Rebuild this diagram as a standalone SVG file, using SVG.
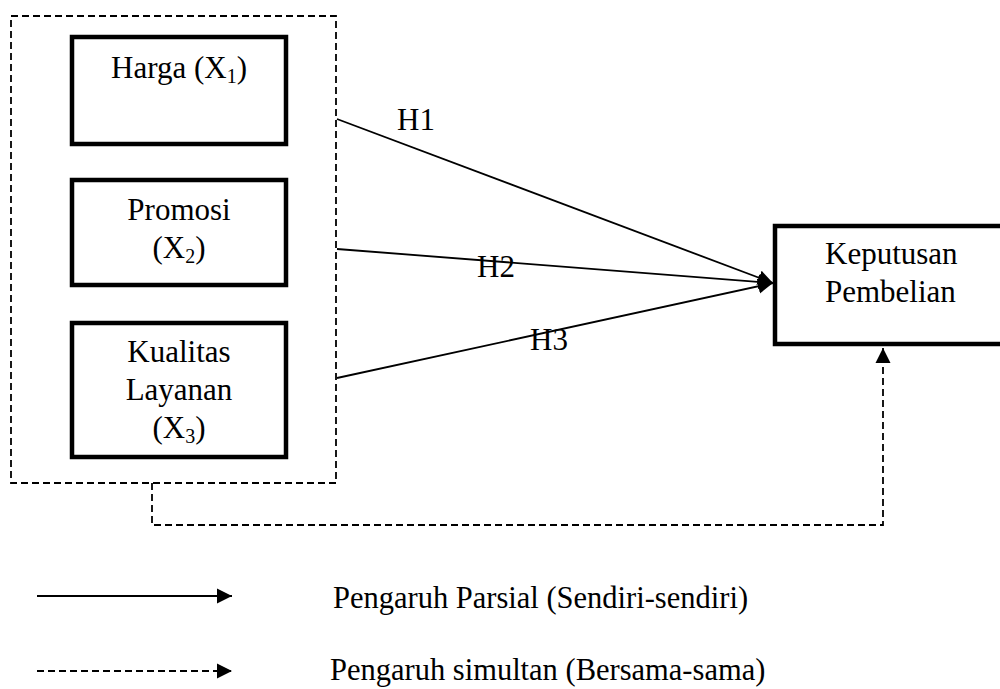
<svg xmlns="http://www.w3.org/2000/svg" width="1000" height="689" viewBox="0 0 1000 689">
<style>
text{font-family:"Liberation Serif","Times New Roman",serif;fill:#000}
.t{font-size:31px}
.c{text-anchor:middle}
.lg{font-size:30.5px}
.box{fill:#fff;stroke:#000;stroke-width:4.5}
.ln{fill:none;stroke:#000;stroke-width:1.8}
.dash{fill:none;stroke:#000;stroke-width:1.8;stroke-dasharray:7 4}
</style>
<defs>
<marker id="ah" markerUnits="userSpaceOnUse" markerWidth="16" markerHeight="18" refX="15" refY="9" orient="auto">
<path d="M0,1.5 L15,9 L0,16.5 Z" fill="#000"/>
</marker>
<marker id="ah2" markerUnits="userSpaceOnUse" markerWidth="16" markerHeight="16" refX="15" refY="8" orient="auto">
<path d="M0,0.5 L15,8 L0,15.5 Z" fill="#000"/>
</marker>
</defs>
<g id="group-box">
<rect class="dash" x="11" y="16" width="325" height="467"/>
</g>
<g id="harga">
<rect class="box" x="72" y="37" width="214" height="107"/>
<text class="t c" x="179" y="78">Harga (X<tspan font-size="20" dy="5">1</tspan><tspan dy="-5">)</tspan></text>
</g>
<g id="promosi">
<rect class="box" x="72" y="180" width="214" height="105"/>
<text class="t c" x="179" y="220">Promosi</text>
<text class="t c" x="179" y="258">(X<tspan font-size="20" dy="5">2</tspan><tspan dy="-5">)</tspan></text>
</g>
<g id="kualitas">
<rect class="box" x="72" y="323" width="214" height="134"/>
<text class="t c" x="179" y="362">Kualitas</text>
<text class="t c" x="179" y="400">Layanan</text>
<text class="t c" x="179" y="438">(X<tspan font-size="20" dy="5">3</tspan><tspan dy="-5">)</tspan></text>
</g>
<g id="keputusan">
<rect class="box" x="775" y="226" width="240" height="118"/>
<text class="t" x="825" y="264">Keputusan</text>
<text class="t" x="825" y="302">Pembelian</text>
</g>
<g id="connectors">
<line class="ln" x1="337" y1="119" x2="773" y2="283" marker-end="url(#ah)"/>
<line class="ln" x1="337" y1="249" x2="773" y2="283" marker-end="url(#ah)"/>
<line class="ln" x1="337" y1="378" x2="773" y2="283" marker-end="url(#ah)"/>
<path class="dash" d="M152,483 V525 H883 V348" marker-end="url(#ah)"/>
<text class="t" x="397" y="130">H1</text>
<text class="t" x="477" y="277">H2</text>
<text class="t" x="530" y="350">H3</text>
</g>
<g id="legend">
<line class="ln" x1="37" y1="596" x2="232" y2="596" marker-end="url(#ah2)"/>
<line class="dash" x1="37" y1="671" x2="232" y2="671" marker-end="url(#ah2)"/>
<text class="lg" x="333" y="608">Pengaruh Parsial (Sendiri-sendiri)</text>
<text class="lg" x="330" y="680">Pengaruh simultan (Bersama-sama)</text>
</g>
</svg>
